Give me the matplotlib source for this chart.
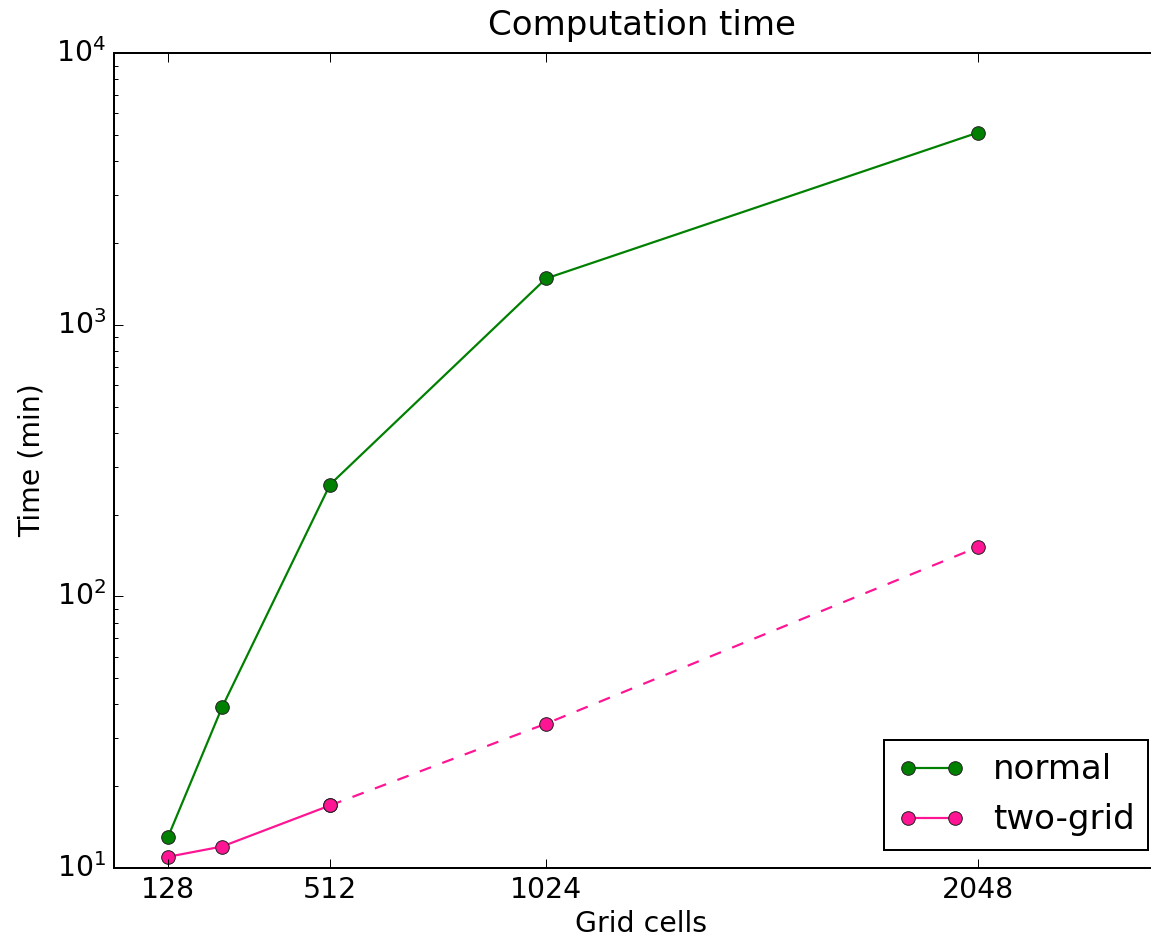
import matplotlib
matplotlib.use("Agg")
import matplotlib.pyplot as plt

# grid sizes and run times (minutes)
grid_cells = [128, 256, 512, 1024, 2048]
normal_time = [13, 39, 258, 1480, 5100]
twogrid_time = [11, 12, 17, 34, 152]
xticks = [128, 512, 1024, 2048]

plt.style.use('classic')
plt.rcParams['font.size'] = 14.2
plt.rcParams['lines.markersize'] = 6.8
plt.rcParams['lines.linewidth'] = 1.1

fig = plt.figure(figsize=(1151 / 144, 936 / 144), dpi=144, facecolor='white')
ax = fig.add_axes([0.099, 0.0726, 0.9166, 0.8707])

ax.plot(grid_cells, normal_time, 'o-', color='green', mec='#222222', label='normal')
# two-grid: measured part solid, extrapolated part dashed
ax.plot(grid_cells[:3], twogrid_time[:3], 'o-', color='deeppink', mec='#222222', label='two-grid')
ax.plot(grid_cells[2:], twogrid_time[2:], 'o--', color='deeppink', mec='#222222')

ax.set_yscale('log')
ax.set_ylim(10, 1e4)
ax.set_xlim(0, 2500)
ax.set_xticks(xticks)
ax.set_xticklabels([str(x) for x in xticks])
ax.tick_params(which='major', length=4.5)

ax.set_title('Computation time', fontsize=17, pad=9)
ax.set_xlabel('Grid cells', labelpad=3)
ax.set_ylabel('Time (min)')

ax.legend(loc='lower right', bbox_to_anchor=(1148 / 1151, 86 / 936),
          bbox_transform=fig.transFigure, borderaxespad=0, fontsize=17)

fig.savefig('out.png', dpi=144, facecolor='white')
